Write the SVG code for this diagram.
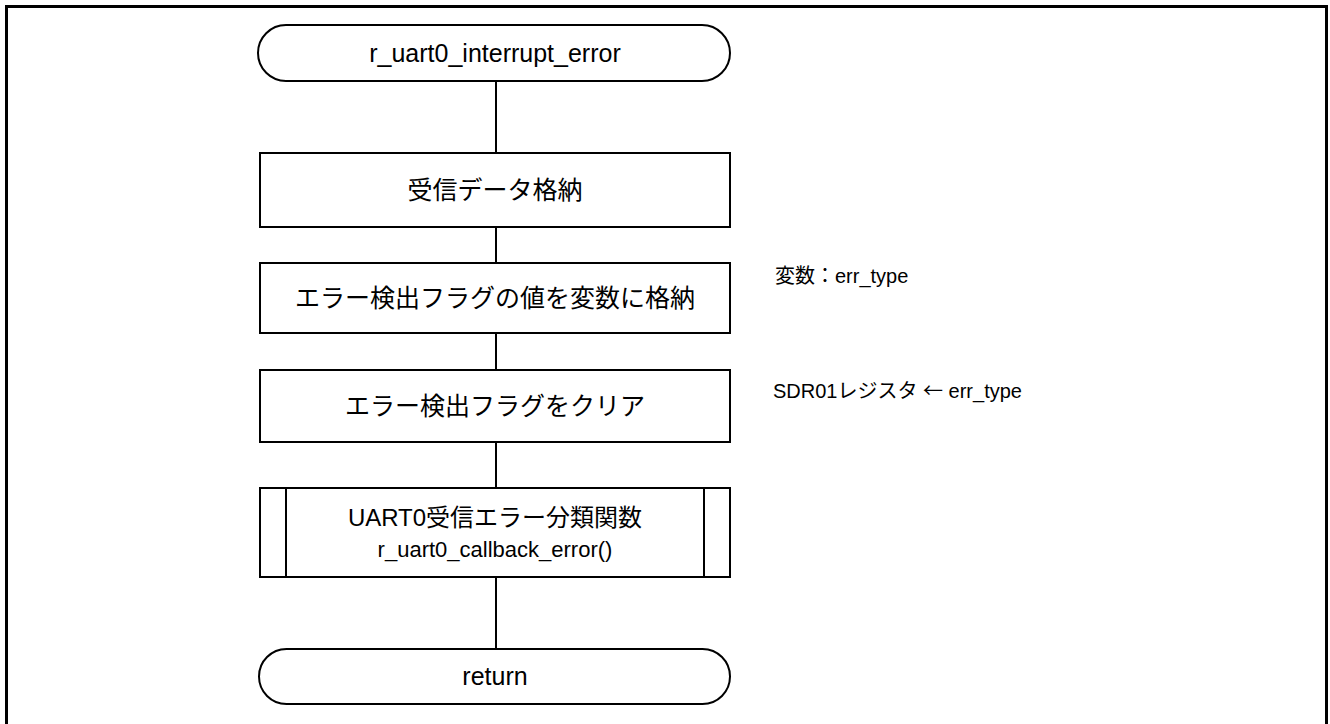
<svg xmlns="http://www.w3.org/2000/svg" width="1330" height="724" viewBox="0 0 1330 724">
<style>
.s{fill:#fff;stroke:#000;stroke-width:2}
.c{stroke:#000;stroke-width:2;fill:none}
.t{font-family:"Liberation Sans","Noto Sans CJK JP",sans-serif;font-size:25px;fill:#000;text-anchor:middle}
.a{font-family:"Liberation Sans","Noto Sans CJK JP",sans-serif;font-size:20px;fill:#000}
.j{font-family:"Noto Sans CJK JP",sans-serif}
</style>
<rect x="6.5" y="6.5" width="1320" height="722" fill="#fff" stroke="#000" stroke-width="3"/>
<g id="connectors">
<line class="c" x1="496" y1="81" x2="496" y2="153"/>
<line class="c" x1="496" y1="227" x2="496" y2="263"/>
<line class="c" x1="496" y1="333" x2="496" y2="370"/>
<line class="c" x1="496" y1="442" x2="496" y2="488"/>
<line class="c" x1="496" y1="577" x2="496" y2="649"/>
</g>
<g id="start">
<rect class="s" x="258" y="25" width="472" height="56" rx="28" ry="28"/>
<text class="t" x="495" y="62">r_uart0_interrupt_error</text>
</g>
<g id="n1">
<rect class="s" x="260" y="153" width="470" height="74"/>
<text class="t" x="495" y="199">受信データ格納</text>
</g>
<g id="n2">
<rect class="s" x="260" y="263" width="470" height="70"/>
<text class="t" x="495" y="307">エラー検出フラグの値を変数に格納</text>
<text class="a" x="775" y="283">変数：err_type</text>
</g>
<g id="n3">
<rect class="s" x="260" y="370" width="470" height="72"/>
<text class="t" x="495" y="415">エラー検出フラグをクリア</text>
<text class="a" x="773" y="398">SDR01レジスタ <tspan class="j">←</tspan> err_type</text>
</g>
<g id="n4">
<rect class="s" x="260" y="488" width="470" height="89"/>
<line class="c" x1="286" y1="488" x2="286" y2="577"/>
<line class="c" x1="704" y1="488" x2="704" y2="577"/>
<text class="t" x="495" y="526" style="font-size:24px">UART0受信エラー分類関数</text>
<text class="t" x="495" y="557" style="font-size:22px">r_uart0_callback_error()</text>
</g>
<g id="end">
<rect class="s" x="259" y="649" width="471" height="55" rx="27.5" ry="27.5"/>
<text class="t" x="495" y="685">return</text>
</g>
</svg>
